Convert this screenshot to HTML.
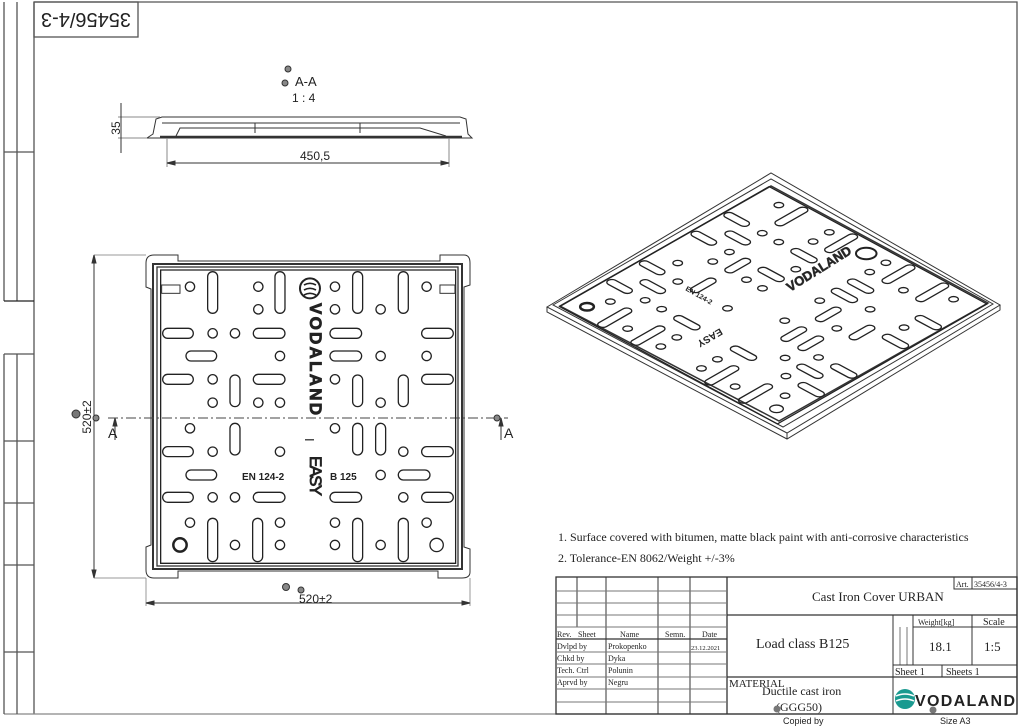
<!DOCTYPE html>
<html><head><meta charset="utf-8"><style>
html,body{margin:0;padding:0;background:#fff;}
svg{display:block;}
text{font-family:"Liberation Serif",serif;fill:#222;}
.sans{font-family:"Liberation Sans",sans-serif;}
</style></head><body>
<svg width="1024" height="726" viewBox="0 0 1024 726" xmlns="http://www.w3.org/2000/svg">
<defs>
<g id="pat" fill="none" stroke="#222" stroke-width="1.3" vector-effect="non-scaling-stroke">
 <g vector-effect="non-scaling-stroke">
 <!-- vertical slots -->
 <rect x="443" y="95" width="30" height="125" rx="15" vector-effect="non-scaling-stroke"/>
 <rect x="645" y="95" width="30" height="125" rx="15" vector-effect="non-scaling-stroke"/>
 <rect x="878" y="95" width="30" height="125" rx="15" vector-effect="non-scaling-stroke"/>
 <rect x="1015" y="95" width="30" height="125" rx="15" vector-effect="non-scaling-stroke"/>
 <rect x="510" y="405" width="30" height="95" rx="15" vector-effect="non-scaling-stroke"/>
 <rect x="878" y="405" width="30" height="95" rx="15" vector-effect="non-scaling-stroke"/>
 <rect x="1015" y="405" width="30" height="95" rx="15" vector-effect="non-scaling-stroke"/>
 <rect x="510" y="550" width="30" height="95" rx="15" vector-effect="non-scaling-stroke"/>
 <rect x="878" y="550" width="30" height="95" rx="15" vector-effect="non-scaling-stroke"/>
 <rect x="947" y="550" width="30" height="95" rx="15" vector-effect="non-scaling-stroke"/>
 <rect x="443" y="835" width="30" height="130" rx="15" vector-effect="non-scaling-stroke"/>
 <rect x="578" y="835" width="30" height="130" rx="15" vector-effect="non-scaling-stroke"/>
 <rect x="878" y="835" width="30" height="130" rx="15" vector-effect="non-scaling-stroke"/>
 <rect x="1015" y="835" width="30" height="130" rx="15" vector-effect="non-scaling-stroke"/>
 <!-- horizontal slots -->
 <rect x="308" y="265" width="92" height="30" rx="15" vector-effect="non-scaling-stroke"/>
 <rect x="580" y="265" width="95" height="30" rx="15" vector-effect="non-scaling-stroke"/>
 <rect x="810" y="265" width="95" height="30" rx="15" vector-effect="non-scaling-stroke"/>
 <rect x="1085" y="265" width="95" height="30" rx="15" vector-effect="non-scaling-stroke"/>
 <rect x="378" y="333" width="92" height="30" rx="15" vector-effect="non-scaling-stroke"/>
 <rect x="810" y="333" width="95" height="30" rx="15" vector-effect="non-scaling-stroke"/>
 <rect x="308" y="403" width="92" height="30" rx="15" vector-effect="non-scaling-stroke"/>
 <rect x="580" y="403" width="95" height="30" rx="15" vector-effect="non-scaling-stroke"/>
 <rect x="1085" y="403" width="95" height="30" rx="15" vector-effect="non-scaling-stroke"/>
 <rect x="308" y="620" width="92" height="30" rx="15" vector-effect="non-scaling-stroke"/>
 <rect x="1085" y="620" width="95" height="30" rx="15" vector-effect="non-scaling-stroke"/>
 <rect x="378" y="690" width="92" height="30" rx="15" vector-effect="non-scaling-stroke"/>
 <rect x="1015" y="690" width="95" height="30" rx="15" vector-effect="non-scaling-stroke"/>
 <rect x="308" y="757" width="92" height="30" rx="15" vector-effect="non-scaling-stroke"/>
 <rect x="580" y="757" width="95" height="30" rx="15" vector-effect="non-scaling-stroke"/>
 <rect x="810" y="757" width="95" height="30" rx="15" vector-effect="non-scaling-stroke"/>
 <rect x="1085" y="757" width="95" height="30" rx="15" vector-effect="non-scaling-stroke"/>
 <!-- circles -->
 <g vector-effect="non-scaling-stroke">
 <circle cx="390" cy="140" r="14" vector-effect="non-scaling-stroke"/><circle cx="595" cy="140" r="14" vector-effect="non-scaling-stroke"/>
 <circle cx="825" cy="140" r="14" vector-effect="non-scaling-stroke"/><circle cx="1100" cy="140" r="14" vector-effect="non-scaling-stroke"/>
 <circle cx="595" cy="208" r="14" vector-effect="non-scaling-stroke"/><circle cx="825" cy="208" r="14" vector-effect="non-scaling-stroke"/>
 <circle cx="962" cy="208" r="14" vector-effect="non-scaling-stroke"/><circle cx="458" cy="280" r="14" vector-effect="non-scaling-stroke"/>
 <circle cx="525" cy="280" r="14" vector-effect="non-scaling-stroke"/><circle cx="660" cy="348" r="14" vector-effect="non-scaling-stroke"/>
 <circle cx="962" cy="348" r="14" vector-effect="non-scaling-stroke"/><circle cx="1100" cy="348" r="14" vector-effect="non-scaling-stroke"/>
 <circle cx="458" cy="418" r="14" vector-effect="non-scaling-stroke"/><circle cx="825" cy="418" r="14" vector-effect="non-scaling-stroke"/>
 <circle cx="458" cy="488" r="14" vector-effect="non-scaling-stroke"/><circle cx="595" cy="488" r="14" vector-effect="non-scaling-stroke"/>
 <circle cx="660" cy="488" r="14" vector-effect="non-scaling-stroke"/><circle cx="962" cy="488" r="14" vector-effect="non-scaling-stroke"/>
 <circle cx="390" cy="565" r="14" vector-effect="non-scaling-stroke"/><circle cx="825" cy="565" r="14" vector-effect="non-scaling-stroke"/>
 <circle cx="458" cy="635" r="14" vector-effect="non-scaling-stroke"/><circle cx="660" cy="635" r="14" vector-effect="non-scaling-stroke"/>
 <circle cx="1030" cy="635" r="14" vector-effect="non-scaling-stroke"/><circle cx="962" cy="705" r="14" vector-effect="non-scaling-stroke"/>
 <circle cx="458" cy="772" r="14" vector-effect="non-scaling-stroke"/><circle cx="525" cy="772" r="14" vector-effect="non-scaling-stroke"/>
 <circle cx="1030" cy="772" r="14" vector-effect="non-scaling-stroke"/><circle cx="390" cy="848" r="14" vector-effect="non-scaling-stroke"/>
 <circle cx="660" cy="848" r="14" vector-effect="non-scaling-stroke"/><circle cx="825" cy="848" r="14" vector-effect="non-scaling-stroke"/>
 <circle cx="1100" cy="848" r="14" vector-effect="non-scaling-stroke"/><circle cx="525" cy="915" r="14" vector-effect="non-scaling-stroke"/>
 <circle cx="660" cy="915" r="14" vector-effect="non-scaling-stroke"/><circle cx="825" cy="915" r="14" vector-effect="non-scaling-stroke"/>
 <circle cx="962" cy="915" r="14" vector-effect="non-scaling-stroke"/>
 <circle cx="360" cy="915" r="20" stroke-width="2.5" vector-effect="non-scaling-stroke"/>
 <circle cx="1130" cy="915" r="20" vector-effect="non-scaling-stroke"/>
 <circle cx="750" cy="145" r="30" stroke-width="2" vector-effect="non-scaling-stroke"/>
 </g>
 <!-- lid edge -->
 <rect x="302" y="90" width="885" height="880" vector-effect="non-scaling-stroke"/>
 </g>
</g>
</defs>

<!-- border frame -->
<g fill="none" stroke="#555" stroke-width="1.3">
 <polyline points="34,2 1017,2 1017,714"/>
 <line x1="34" y1="2" x2="34" y2="714"/>
 <line x1="4" y1="714" x2="1017" y2="714" stroke="#888"/>
 <line x1="4" y1="2" x2="4" y2="301"/><line x1="17" y1="2" x2="17" y2="301"/>
 <line x1="4" y1="152" x2="34" y2="152"/><line x1="4" y1="301" x2="34" y2="301" stroke="#222"/>
 <line x1="4" y1="354" x2="4" y2="714"/><line x1="17" y1="354" x2="17" y2="714"/>
 <line x1="4" y1="354" x2="34" y2="354"/><line x1="4" y1="441" x2="34" y2="441"/>
 <line x1="4" y1="503" x2="34" y2="503"/><line x1="4" y1="565" x2="34" y2="565"/>
 <line x1="4" y1="652" x2="34" y2="652"/>
 <rect x="34" y="2" width="104" height="35"/>
</g>
<text x="86" y="27" font-size="20" text-anchor="middle" class="sans" transform="rotate(180 86 20)">35456/4-3</text>

<!-- section A-A -->
<g fill="none" stroke="#333" stroke-width="1">
 <text x="295" y="86" font-size="13" class="sans" stroke="none" fill="#444">A-A</text>
 <text x="292" y="102" font-size="12" class="sans" stroke="none" fill="#444">1 : 4</text>
 <circle cx="288" cy="69" r="3" fill="#888"/><circle cx="285" cy="83" r="3" fill="#888"/>
 <path d="M147,138 L153,134 L156,119 L162,117 L460,117 L466,119 L468,134 L472,138 Z"/>
 <line x1="162" y1="123" x2="460" y2="123"/>
 <path d="M176,136 L180,128 L420,128 L446,136" />
 <line x1="160" y1="137" x2="462" y2="137" stroke-width="2.5"/>
 <line x1="255" y1="123" x2="255" y2="133"/><line x1="360" y1="123" x2="360" y2="133"/>
 <line x1="118" y1="117" x2="160" y2="117" stroke="#888"/><line x1="118" y1="138" x2="147" y2="138" stroke="#888"/>
 <line x1="121" y1="103" x2="121" y2="153"/>
 <line x1="167" y1="138" x2="167" y2="167" stroke="#888"/><line x1="449" y1="138" x2="449" y2="167" stroke="#888"/>
 <line x1="167" y1="163" x2="449" y2="163"/>
 <path d="M167,163 l8,-2 v4z M449,163 l-8,-2 v4z" fill="#333"/>
 <text x="300" y="160" font-size="12" class="sans" stroke="none" fill="#444">450,5</text>
 <text x="118" y="130" font-size="12" class="sans" stroke="none" fill="#444" text-anchor="middle" transform="rotate(-90 118 128)">35</text>
</g>

<!-- plan view -->
<g fill="none" stroke="#333" stroke-width="1">
 <path d="M146,263 Q146,255 154,255 L178,255 L178,261 L440,261 L440,255 L464,255 Q470,255 470,263 L470,285 L464,287 L464,547 L470,549 L470,572 Q470,578 462,578 L438,578 L438,571 L178,571 L178,578 L154,578 Q146,578 146,570 L146,547 L151,545 L151,289 L146,287 Z"/>
 <rect x="153" y="264" width="309" height="305" stroke-width="2"/>
 <rect x="157" y="267" width="301" height="299" stroke-width="1.3"/>
 <line x1="94" y1="255" x2="146" y2="255" stroke="#999"/><line x1="94" y1="578" x2="146" y2="578" stroke="#999"/>
 <line x1="94" y1="255" x2="94" y2="578"/>
 <path d="M94,255 l-2,8 h4z M94,578 l-2,-8 h4z" fill="#333"/>
 <line x1="146" y1="578" x2="146" y2="606" stroke="#999"/><line x1="470" y1="578" x2="470" y2="606" stroke="#999"/>
 <line x1="146" y1="603" x2="470" y2="603"/>
 <path d="M146,603 l8,-2 v4z M470,603 l-8,-2 v4z" fill="#333"/>
 <line x1="108" y1="418" x2="508" y2="418" stroke-dasharray="10,3,2,3" stroke="#444"/>
 <line x1="115" y1="418" x2="115" y2="440"/><path d="M115,418 l-2,8 h4z" fill="#333"/>
 <line x1="501" y1="418" x2="501" y2="440"/><path d="M501,418 l-2,8 h4z" fill="#333"/>
 <circle cx="76" cy="414" r="4" fill="#777"/><circle cx="96" cy="418" r="3" fill="#888"/>
 <circle cx="497" cy="418" r="3" fill="#888"/>
 <circle cx="286" cy="587" r="3.5" fill="#888"/><circle cx="301" cy="590" r="3" fill="#888"/>
</g>
<text x="108" y="438" font-size="14" class="sans" fill="#444">A</text>
<text x="504" y="438" font-size="14" class="sans" fill="#444">A</text>
<text x="93" y="419" font-size="12" class="sans" fill="#444" text-anchor="middle" transform="rotate(-90 91 419)">520±2</text>
<text x="299" y="603" font-size="12" class="sans" fill="#444">520±2</text>
<g transform="translate(60,240) scale(0.3333)">
 <use href="#pat"/>
 <rect x="305" y="135" width="55" height="25" fill="none" stroke="#333" stroke-width="3"/>
 <rect x="1140" y="135" width="45" height="25" fill="none" stroke="#333" stroke-width="3"/>
 <path d="M732,135 q18,-10 36,0 M732,150 q18,-10 36,0 M732,165 q18,-10 36,0" fill="none" stroke="#222" stroke-width="5"/>
</g>
<text x="310" y="303" font-size="17" class="sans" font-weight="bold" fill="none" stroke="#222" stroke-width="0.8" transform="rotate(90 310 303)" textLength="112">VODALAND</text>
<text x="305" y="438" font-size="13" class="sans" fill="#222" transform="rotate(90 305 438)">I</text>
<text x="310" y="456" font-size="17" class="sans" fill="none" stroke="#222" stroke-width="0.8" transform="rotate(90 310 456)" textLength="40">EASY</text>
<text x="242" y="480" font-size="10" class="sans" font-weight="bold" fill="#222">EN 124-2</text>
<text x="330" y="480" font-size="10" class="sans" font-weight="bold" fill="#222">B 125</text>

<!-- 3D view -->
<g fill="none" stroke="#333" stroke-width="1">
 <polygon points="547,307 771,173 1000,305 787,433"/>
 <polyline points="547,307 547,312 787,439 1000,310 1000,305"/>
 <line x1="787" y1="433" x2="787" y2="439"/>
 <polygon points="553,305 771,179 993,304 783,427"/>
 <polygon points="560,306 771,186 988,303 779,421" stroke-width="1.5"/>
</g>
<g transform="matrix(0.2461,0.1326,-0.2380,0.1363,716.2,134.3)">
 <use href="#pat"/>
</g>
<text x="790" y="292" font-size="13" class="sans" font-weight="bold" fill="none" stroke="#333" stroke-width="0.6" transform="rotate(-32 790 292)">VODALAND</text>
<text x="720" y="328" font-size="10" class="sans" font-weight="bold" fill="#333" transform="rotate(150 720 328)">EASY</text>
<text x="685" y="290" font-size="7" class="sans" font-weight="bold" fill="#333" transform="rotate(30 685 290)">EN 124-2</text>

<!-- notes -->
<text x="558" y="541" font-size="12">1. Surface covered with bitumen, matte black paint with anti-corrosive characteristics</text>
<text x="558" y="562" font-size="12">2. Tolerance-EN 8062/Weight +/-3%</text>

<!-- title block -->
<g fill="none" stroke="#333" stroke-width="1">
 <rect x="556" y="577" width="461" height="137" stroke-width="1.3"/>
 <line x1="577" y1="577" x2="577" y2="627"/>
 <line x1="606" y1="577" x2="606" y2="714"/>
 <line x1="658" y1="577" x2="658" y2="714"/>
 <line x1="690" y1="577" x2="690" y2="714"/>
 <line x1="727" y1="577" x2="727" y2="714" stroke-width="1.3"/>
 <line x1="556" y1="591" x2="727" y2="591" stroke="#777"/>
 <line x1="556" y1="603" x2="727" y2="603" stroke="#777"/>
 <line x1="556" y1="615" x2="727" y2="615" stroke="#777"/>
 <line x1="556" y1="627" x2="727" y2="627" stroke="#777"/>
 <line x1="556" y1="639" x2="727" y2="639" stroke-width="1.3"/>
 <line x1="556" y1="652" x2="727" y2="652" stroke="#777"/>
 <line x1="556" y1="664" x2="727" y2="664" stroke="#777"/>
 <line x1="556" y1="677" x2="727" y2="677" stroke="#777"/>
 <line x1="556" y1="689" x2="727" y2="689" stroke="#777"/>
 <line x1="556" y1="702" x2="727" y2="702" stroke="#777"/>
 <line x1="727" y1="615" x2="1017" y2="615" stroke-width="1.3"/>
 <line x1="727" y1="677" x2="1017" y2="677" stroke-width="1.3"/>
 <line x1="893" y1="615" x2="893" y2="714"/>
 <line x1="913" y1="615" x2="913" y2="665"/>
 <line x1="972" y1="615" x2="972" y2="665"/>
 <line x1="913" y1="627" x2="1017" y2="627"/>
 <line x1="900" y1="627" x2="900" y2="665" stroke="#777"/>
 <line x1="907" y1="627" x2="907" y2="665" stroke="#777"/>
 <line x1="893" y1="665" x2="1017" y2="665"/>
 <line x1="942" y1="665" x2="942" y2="677"/>
 <rect x="954" y="577" width="63" height="12"/>
 <line x1="972" y1="577" x2="972" y2="589"/>
</g>
<g font-size="8">
 <text x="557" y="637">Rev.</text><text x="578" y="637">Sheet</text>
 <text x="620" y="637">Name</text><text x="665" y="637">Semn.</text><text x="702" y="637">Date</text>
 <text x="557" y="649">Dvlpd by</text><text x="608" y="649">Prokopenko</text><text x="691" y="650" font-size="6.5">23.12.2021</text>
 <text x="557" y="661">Chkd by</text><text x="608" y="661">Dyka</text>
 <text x="557" y="673">Tech. Ctrl</text><text x="608" y="673">Polunin</text>
 <text x="557" y="685">Aprvd by</text><text x="608" y="685">Negru</text>
 <text x="956" y="587">Art.</text><text x="974" y="587">35456/4-3</text>
 <text x="918" y="625">Weight[kg]</text>
</g>
<text x="812" y="601" font-size="13">Cast Iron Cover URBAN</text>
<text x="756" y="648" font-size="14">Load class B125</text>
<text x="983" y="625" font-size="10">Scale</text>
<text x="929" y="651" font-size="13">18.1</text>
<text x="984" y="651" font-size="13">1:5</text>
<text x="895" y="675" font-size="10">Sheet 1</text>
<text x="946" y="675" font-size="10">Sheets 1</text>
<text x="729" y="687" font-size="11">MATERIAL</text>
<text x="762" y="695" font-size="12">Ductile cast iron</text>
<text x="776" y="711" font-size="12">(GGG50)</text>
<circle cx="777" cy="709" r="3.5" fill="#777"/>
<circle cx="933" cy="710" r="3.5" fill="#777"/>
<text x="783" y="724" font-size="9" class="sans" fill="#444">Copied by</text>
<text x="940" y="724" font-size="9" class="sans" fill="#444">Size A3</text>
<circle cx="905" cy="699" r="10" fill="#1a9a90"/>
<path d="M896,696 q9,-4 18,0 M896,701 q9,-4 18,0" stroke="#fff" stroke-width="1.5" fill="none"/>
<text x="915" y="706" font-size="16" class="sans" font-weight="bold" fill="#1a9a90" textLength="100">VODALAND</text>
</svg>
</body></html>
